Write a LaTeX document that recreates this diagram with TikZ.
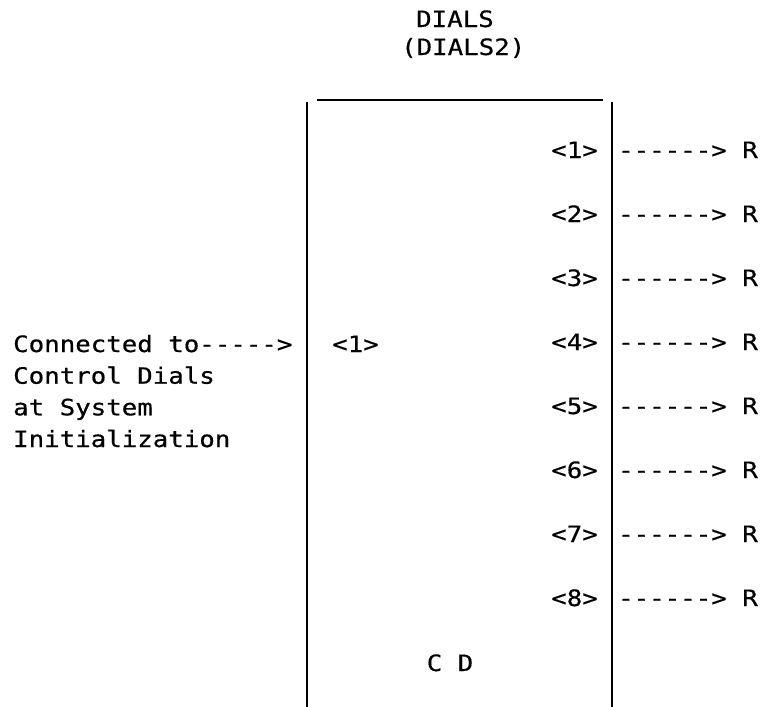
\documentclass[tikz,border=0pt]{standalone}
\usepackage{fontspec}
\newfontfamily\dmono[FakeStretch=1.145,FakeBold=0.5,Ligatures=TeXOff]{DejaVu Sans Mono}
\begin{document}
\begin{tikzpicture}[x=1pt,y=-1pt,
  txt/.style={font=\dmono\fontsize{22.5}{26}\selectfont, inner sep=0pt, text=black},
  wall/.style={line width=2.2pt, black},
  lid/.style={line width=1.3pt, black}]
\useasboundingbox (0,0) rectangle (769,707);
% box
\coordinate (lt) at (307,102);
\coordinate (lb) at (307,707);
\coordinate (rt) at (612,102);
\coordinate (rb) at (612,707);
\coordinate (ha) at (317,100);
\coordinate (hb) at (603,100);
\draw[wall] (lt) -- (lb);
\draw[wall] (rt) -- (rb);
\draw[lid] (ha) -- (hb);
% title
\node[txt, anchor=base west] (title1) at (416,27) {DIALS};
\node[txt, anchor=base west] (title2) at (401,55) {(DIALS2)};
% outputs
\foreach \k in {1,...,8} {
  \node[txt, anchor=base east] (p\k) at (598,{158+64*(\k-1)}) {<\k>};
  \node[txt, anchor=base west] (r\k) at (618,{158+64*(\k-1)}) {------> R};
}
% input
\node[txt, anchor=base west] (in1) at (332,352) {<1>};
\node[txt, anchor=base west] (c1) at (13,352) {Connected to----->};
\node[txt, anchor=base west] (c2) at (13,383.7) {Control Dials};
\node[txt, anchor=base west] (c3) at (13,415.3) {at System};
\node[txt, anchor=base west] (c4) at (13,447) {Initialization};
% bottom label
\node[txt, anchor=base] (cd) at (450,671) {C D};
\end{tikzpicture}
\end{document}
